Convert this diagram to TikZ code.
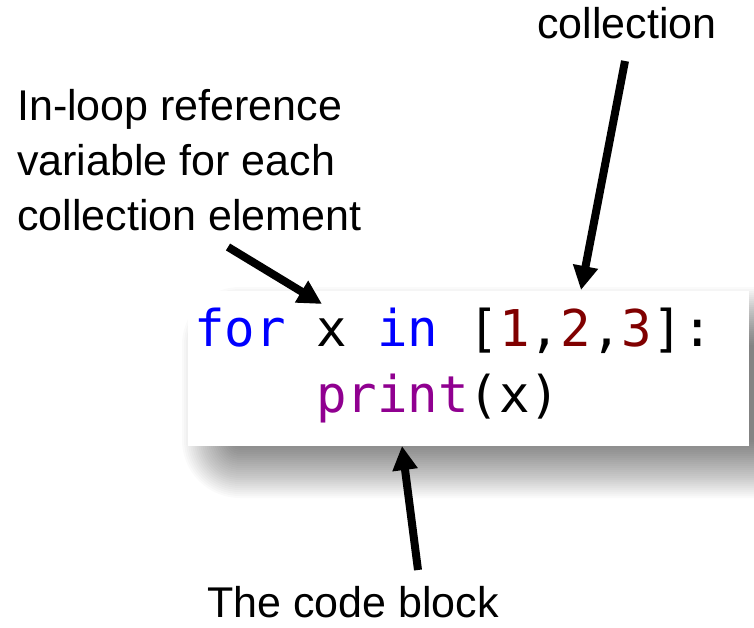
\documentclass[tikz,border=0pt]{standalone}
\usepackage{fontspec}
\setmainfont{Liberation Sans}
\newfontfamily\codefont{DejaVu Sans Mono}
\usetikzlibrary{arrows.meta}
\definecolor{kwblue}{RGB}{0,0,255}
\definecolor{numred}{RGB}{128,0,0}
\definecolor{fnpurple}{RGB}{144,0,144}
\tikzset{
  labeltext/.style={font=\fontsize{43}{55}\selectfont, inner sep=0pt},
  codetext/.style={font=\codefont\fontsize{50.7}{66}\selectfont, inner sep=0pt, anchor=base west},
  codebox/.style={fill=white, inner sep=0pt, anchor=north west},
  pointer/.style={line width=8pt, -{Triangle[length=24pt,width=24pt]}},
}
\begin{document}
\begin{tikzpicture}[x=1pt,y=-1pt]
\useasboundingbox (0,0) rectangle (754,628);
\fill[white] (0,0) rectangle (754,628);

% soft drop shadow under the code panel
\begin{scope}
  \clip (0,0) rectangle (754,628);
  \foreach \k in {0,...,29}{
    \pgfmathsetmacro\s{2*\k}
    \fill[black, opacity=0.02, rounded corners=\s pt]
      (240-\s,345-\s) rectangle (770+\s,440+\s);
  }
\end{scope}

% code panel
\node[codebox, minimum width=561pt, minimum height=155pt] (code) at (188,291) {};
\node[codetext] (line1) at (194,346)
  {\textcolor{kwblue}{for} x \textcolor{kwblue}{in} [\textcolor{numred}{1},\textcolor{numred}{2},\textcolor{numred}{3}]:};
\node[codetext] (line2) at (316,412) {\textcolor{fnpurple}{print}(x)};

% labels
\node[labeltext, anchor=base] (coll) at (627,39) {collection};
\node[labeltext, anchor=north west, align=left] (loopvar) at (17,89)
  {In-loop reference\\variable for each\\collection element};
\node[labeltext, anchor=base] (block) at (353,617) {The code block};

% pointers
\coordinate (varTail) at (228,247);
\coordinate (varTip)  at (322,304);
\coordinate (listTail) at (625,61);
\coordinate (listTip)  at (581,290);
\coordinate (blockTail) at (418,570);
\coordinate (blockTip)  at (402,446);
\draw[pointer] (varTail) -- (varTip);
\draw[pointer] (listTail) -- (listTip);
\draw[pointer] (blockTail) -- (blockTip);
\end{tikzpicture}
\end{document}
